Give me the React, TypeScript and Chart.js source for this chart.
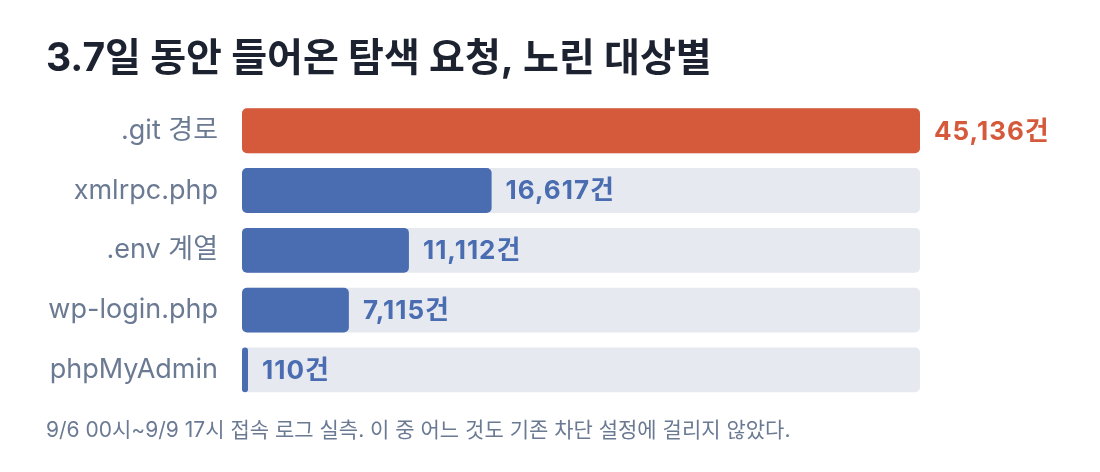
import { useEffect, useRef } from 'react'
import { Chart, ChartConfiguration, Plugin, registerables } from 'chart.js'

Chart.register(...registerables)

const FONT = 'Inter, "Noto Sans CJK KR", sans-serif'

const targets = ['.git 경로', 'xmlrpc.php', '.env 계열', 'wp-login.php', 'phpMyAdmin']
const requestCounts = [45136, 16617, 11112, 7115, 110]
const trackMax = 45136
const trackValues = [trackMax, trackMax, trackMax, trackMax, trackMax]
const barColors = ['#d55a3b', '#4a6cb1', '#4a6cb1', '#4a6cb1', '#4a6cb1']
const valueUnit = '건'

const titleText = '3.7일 동안 들어온 탐색 요청, 노린 대상별'
const noteText = '9/6 00시~9/9 17시 접속 로그 실측. 이 중 어느 것도 기존 차단 설정에 걸리지 않았다.'

// writes "16,617건" just past the end of each bar
const valueLabels: Plugin<'bar'> = {
  id: 'valueLabels',
  afterDatasetsDraw(chart) {
    const { ctx } = chart
    const meta = chart.getDatasetMeta(0)
    ctx.save()
    ctx.font = `bold 26px ${FONT}`
    ;(ctx as any).letterSpacing = '1px'
    ctx.textBaseline = 'middle'
    ctx.textAlign = 'left'
    meta.data.forEach((bar, i) => {
      const { x, y } = bar.getProps(['x', 'y'], true)
      ctx.fillStyle = barColors[i]
      ctx.fillText(requestCounts[i].toLocaleString('en-US') + valueUnit, x + 14, y + 1)
    })
    ctx.restore()
  },
}

const App = () => {
  const canvasRef = useRef<HTMLCanvasElement>(null)
  const chartRef = useRef<Chart | null>(null)

  useEffect(() => {
    document.body.style.margin = '0'
    if (!canvasRef.current) return
    const ctx = canvasRef.current.getContext('2d')
    if (!ctx) return
    if (chartRef.current) chartRef.current.destroy()

    const config: ChartConfiguration<'bar'> = {
      type: 'bar',
      data: {
        labels: targets,
        datasets: [
          {
            data: requestCounts,
            backgroundColor: barColors,
            borderRadius: 5,
            borderSkipped: false,
            barPercentage: 0.75,
            categoryPercentage: 1,
            grouped: false,
            minBarLength: 6,
          },
          {
            data: trackValues,
            backgroundColor: '#e6e9ef',
            borderRadius: 5,
            borderSkipped: false,
            barPercentage: 0.75,
            categoryPercentage: 1,
            grouped: false,
          },
        ],
      },
      options: {
        indexAxis: 'y',
        animation: false,
        responsive: true,
        maintainAspectRatio: false,
        layout: { padding: { left: 46, right: 180, top: 0, bottom: 0 } },
        scales: {
          x: { display: false, min: 0, max: trackMax },
          y: {
            grid: { display: false, drawTicks: false },
            border: { display: false },
            ticks: {
              color: '#6b7a93',
              font: { family: FONT, size: 27 },
              padding: 24,
            },
            afterFit(scale) {
              scale.width = 196
            },
          },
        },
        plugins: {
          legend: { display: false },
          tooltip: { enabled: false },
          title: {
            display: true,
            text: titleText,
            align: 'start',
            color: '#1c2230',
            font: { family: FONT, size: 39, weight: 'bold', lineHeight: 1.2 },
            padding: { top: 36, bottom: 18 },
          },
          subtitle: {
            display: true,
            position: 'bottom',
            text: noteText,
            align: 'start',
            color: '#6b7a93',
            font: { family: FONT, size: 21, lineHeight: 1.2 },
            padding: { top: 18, bottom: 29 },
          },
        },
      },
      plugins: [valueLabels],
    }

    chartRef.current = new Chart(ctx, config)
    return () => {
      if (chartRef.current) {
        chartRef.current.destroy()
        chartRef.current = null
      }
    }
  }, [])

  return (
    <div style={{ width: '1100px', height: '472px', position: 'relative', background: '#fff' }}>
      <canvas ref={canvasRef}></canvas>
    </div>
  )
}

export default App
